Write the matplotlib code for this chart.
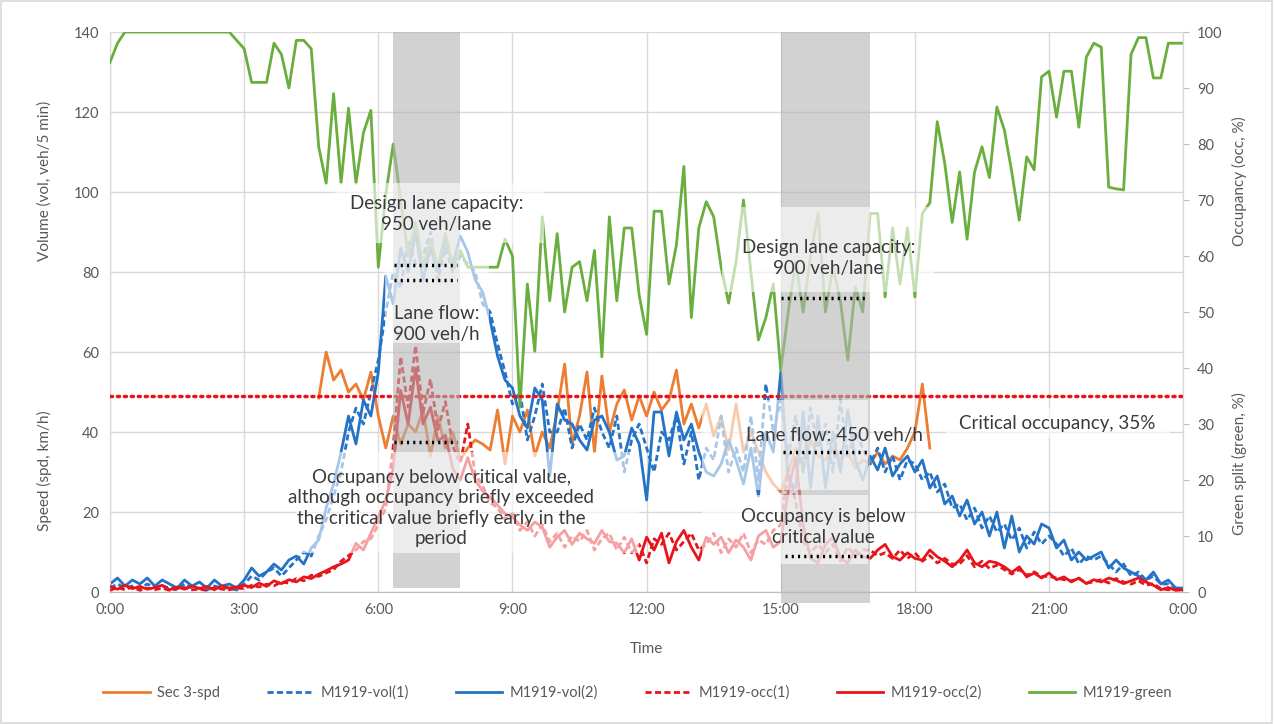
import numpy as np
import matplotlib
matplotlib.use("Agg")
import matplotlib.pyplot as plt
from matplotlib.patches import Rectangle

plt.rcParams['font.family'] = ['Lato', 'DejaVu Sans']

# ---- data: 10-minute samples from 0:00 to 24:00 ----
STEP_MIN = 10

# M1919-vol(2), veh/5 min
vol2 = [2, 3.5, 1.5, 3, 2, 3.5,
        1.5, 3, 2, 1, 3, 1.5,
        2.5, 1, 3, 1.5, 2, 1,
        3, 6, 4, 5, 7, 5.5,
        8, 9, 7, 11, 13, 21,
        27, 35, 44, 37, 48, 44,
        55, 79, 72, 86, 80, 90,
        78, 86, 80, 88, 82, 89,
        85, 78, 75, 68, 59, 53,
        51, 44, 41, 51, 48, 29,
        47, 43, 42, 38, 35.5, 43,
        44, 40, 33, 34, 41, 37,
        23, 45, 45, 34, 45, 38,
        42, 35, 30, 29, 32, 38,
        33, 27, 36, 24, 40, 35,
        55, 28, 26, 45, 26, 44,
        26, 40, 30, 45.5, 33, 28,
        34, 30.5, 36, 29, 32, 34,
        30, 33, 26, 29, 22, 24,
        19, 23, 17, 20, 14, 20,
        11, 19, 10, 14, 12, 17,
        16, 11, 13, 8, 10, 8,
        9, 10, 6, 8, 6, 5,
        4, 3, 5, 2, 3, 1,
        1]

# M1919-vol(1), veh/5 min
vol1 = [1, 2, 1, 1.5, 1, 2,
        1, 1.5, 1, 0.5, 2, 1,
        1, 0.5, 1.5, 1, 1, 0.5,
        2, 4, 3, 5, 6, 4,
        6, 8, 10, 9, 14, 18,
        24, 30, 40, 46, 42, 50,
        58, 70, 80, 76, 88, 82,
        84, 90, 78, 86, 80, 84,
        82, 80, 72, 70, 62, 55,
        47, 50, 38, 44, 52, 40,
        40, 46, 36, 42, 38, 46,
        40, 36, 44, 30, 38, 42,
        36, 30, 40, 38, 44, 32,
        40, 28, 36, 33, 44, 30,
        36, 30, 44, 28, 52, 40,
        48, 34, 44, 30, 46, 36,
        42, 30, 48, 34, 40, 36,
        32, 36, 30, 34, 28, 33,
        32, 28, 30, 25, 27, 21,
        22, 18, 21, 16, 19, 15,
        17, 13, 16, 11, 15, 12,
        14, 12, 9, 11, 7, 9,
        8, 9, 7, 5, 7, 4,
        5, 3, 4, 2, 2, 1,
        0.5]

# M1919-occ(2), %
occ2 = [1, 0.5, 1.2, 0.6, 1.0, 0.5,
        0.8, 1.2, 0.4, 0.9, 0.5, 1.1,
        0.6, 1.0, 0.4, 1.1, 0.7, 0.9,
        1.2, 0.8, 1.6, 1.0, 2.0, 1.5,
        2.2, 1.8, 2.7, 2.4, 3.2, 3.8,
        4.5, 5.0, 5.7, 8.7, 7.5, 10.5,
        13.4, 16.4, 22, 36, 30, 40,
        30, 33, 27, 28, 22, 20,
        24, 20, 18, 17, 15.5, 14,
        13.4, 12, 11, 12.5, 11.6, 8,
        9.8, 11, 8.5, 10.5, 9.5, 8.7,
        11, 9, 8.7, 7, 9.5, 5.7,
        9.8, 7.5, 10.5, 5.2, 9, 11,
        8, 5.7, 9.8, 8.5, 9.8, 7,
        9.3, 8, 5.7, 10, 11, 8,
        9, 18, 24, 12, 6, 5.2,
        8.5, 9.8, 6, 5.2, 7.5, 6.3,
        6, 7.5, 8.5, 6.3, 5.7, 7,
        6, 5.7, 7.5, 6.3, 5.5, 4.5,
        5.7, 7.5, 5.2, 4.5, 5.5, 5.2,
        4.5, 3.5, 4.5, 2.7, 3.4, 2.5,
        3.4, 2.2, 2.7, 1.8, 2.5, 1.5,
        2.2, 1.8, 2.5, 2.1, 1.5, 2.0,
        2.5, 1.8, 1.2, 0.4, 0.8, 0.3,
        0.4]

# M1919-occ(1), %
occ1 = [0.3, 0.8, 0.4, 0.9, 0.3, 0.7,
        0.4, 0.7, 0.3, 0.6, 0.8, 0.4,
        0.5, 0.3, 0.8, 0.5, 0.4, 0.7,
        0.6, 1.2, 0.9, 1.4, 1.1, 1.8,
        1.6, 2.4, 2.0, 3.0, 2.8, 3.4,
        4.0, 5.5, 6.5, 7.5, 9, 9.5,
        12, 15, 26, 42, 33, 44,
        32, 38, 29, 34, 26, 23,
        30, 21, 19, 16, 15, 13,
        14, 11, 12.5, 10, 12, 9,
        10.5, 8, 10, 9, 11, 7.5,
        9.5, 10.5, 7.5, 9.8, 7, 8.5,
        5.2, 9.5, 8.5, 10.5, 7.5, 9,
        10.5, 7.5, 8.5, 10.5, 7, 9.5,
        8, 10.5, 7, 9.3, 8.5, 11,
        12, 22, 16, 9, 7, 8.5,
        7, 8.5, 5.5, 8, 6.5, 7.5,
        7.5, 6.5, 7, 6, 7.5, 6,
        7, 5.5, 6.5, 5.2, 6, 5,
        5, 6.5, 4.5, 5.5, 4.2, 4.8,
        4, 3.2, 4, 3, 3.6, 2.8,
        2.8, 2.5, 2.2, 2.0, 2.4, 1.6,
        1.8, 2.2, 1.6, 2.4, 1.8, 1.4,
        2.0, 1.2, 1.5, 0.6, 0.4, 0.5,
        0.3]

# M1919-green, % green split
green = [94.6, 98, 100, 100, 100, 100,
         100, 100, 100, 100, 100, 100,
         100, 100, 100, 100, 100, 98.5,
         97, 91, 91, 91, 98, 96,
         90, 98.5, 98.5, 97, 79.5, 73,
         89, 73, 86.4, 73, 82, 86,
         58, 71, 80, 70, 60, 66,
         58, 63, 58, 64, 58, 61,
         58, 58, 58, 58, 58, 63,
         60, 33, 55, 43, 67, 52,
         64, 50, 58, 59, 52, 61,
         42, 67, 52, 65, 65, 53,
         46, 68, 68, 55, 62, 76,
         49, 65, 69.7, 67, 58, 51.6,
         59, 70, 57, 45, 49, 55,
         39.6, 50, 59, 50, 60, 67.6,
         50, 58, 52, 41.4, 54.5, 50,
         67.6, 67.6, 52.7, 65, 55, 65,
         52.7, 67.6, 69.5, 84, 76.6, 66,
         75, 63, 75, 79.5, 74, 86.6,
         82.5, 75, 66.4, 77.7, 75.4, 92,
         93, 84.8, 93, 93, 83, 95.5,
         98, 97.3, 72.3, 72, 71.8, 96,
         99, 99, 91.8, 91.8, 98, 98,
         98]

# Sec 3-spd, km/h (detector reports from 4:40 to 18:20)
spd_start_min = 4 * 60 + 40
spd = [48.5, 60,
       53, 55.5, 50, 52, 48, 55,
       44, 36, 44, 37, 42, 40,
       45.5, 34, 44, 36, 40, 33,
       36, 38, 37, 35.5, 45.5, 32,
       44, 40, 45.5, 34, 40, 36,
       45, 57, 37, 44, 55, 35,
       54, 40, 47, 50.5, 43, 49,
       44, 50, 45.5, 48, 55.5, 42,
       47, 41, 47, 39, 44, 35.5,
       47, 35, 40, 35, 30, 27,
       25, 30, 36, 31, 38, 34,
       33, 36, 33, 35, 31, 33,
       32, 35, 32, 34, 33, 36,
       40, 52, 36]

critical_occ = 35  # %

# peak periods (hours)
peaks = [(6 + 20 / 60, 7 + 50 / 60), (15.0, 17.0)]

# annotation reference lines (veh/5 min scale): (start h, end h, level)
ref_lines = [(6.36, 7.77, 81.7), (6.36, 7.77, 78.0), (6.36, 7.77, 37.5),
             (15.0, 16.96, 73.5), (15.05, 16.98, 35.0), (15.1, 17.0, 9.0)]

# note text and its translucent panel (h0, h1, y0, y1) in veh/5 min scale
notes = [(7.3, 94.5, "Design lane capacity:\n950 veh/lane", (5.02, 9.71, 87.3, 102.3)),
         (7.3, 67.0, "Lane flow:\n900 veh/h", (6.14, 8.48, 62.3, 87.3)),
         (7.41, 21.0, "Occupancy below critical value,\nalthough occupancy briefly exceeded\n"
                      "the critical value briefly early in the\nperiod", (4.17, 11.83, 9.8, 35.0)),
         (16.07, 83.5, "Design lane capacity:\n900 veh/lane", (13.68, 18.42, 75.0, 96.3)),
         (16.2, 39.2, "Lane flow: 450 veh/h", (13.24, 16.96, 25.5, 48.0)),
         (15.96, 16.3, "Occupancy is below\ncritical value", (13.24, 16.96, 7.0, 24.3)),
         (21.18, 42.25, "Critical occupancy, 35%", (18.7, 23.7, 38.5, 46.0))]

hour_ticks = list(range(0, 25, 3))
hour_labels = ["0:00", "3:00", "6:00", "9:00", "12:00", "15:00", "18:00", "21:00", "0:00"]

# ---- build time axes ----
t = np.arange(len(vol2)) * STEP_MIN / 60.0
spd_series = np.full(len(vol2), np.nan)
i0 = spd_start_min // STEP_MIN
spd_series[i0:i0 + len(spd)] = spd

C_ORANGE = "#ED7D31"
C_BLUE = "#2473C6"
C_RED = "#E8141B"
C_GREEN = "#6AAE3E"
GRID = "#d9d9d9"
TXT = "#595959"

fig = plt.figure(figsize=(12.75, 7.24), dpi=100)
ax = fig.add_axes([0.0863, 0.1823, 0.8417, 0.7735])
ax2 = ax.twinx()

ax.set_xlim(0, 24)
ax.set_ylim(0, 140)
ax2.set_ylim(0, 100)

ax.set_xticks(hour_ticks)
ax.set_xticklabels(hour_labels)
ax.set_yticks(range(0, 141, 20))
ax2.set_yticks(range(0, 101, 10))
ax.grid(True, color=GRID, lw=1.0)
ax.set_axisbelow(True)

for a in (ax, ax2):
    a.spines['top'].set_visible(False)
    for s in ('left', 'right'):
        a.spines[s].set_color(GRID)
    a.spines['bottom'].set_color("#bfbfbf")
    a.tick_params(labelsize=10.5, colors=TXT, length=0, pad=8)
ax2.tick_params(axis='y', length=4, color="#bfbfbf", direction='out', pad=6)

lw = 2.0
h_spd, = ax.plot(t, spd_series, color=C_ORANGE, lw=lw, zorder=3)
h_v1, = ax.plot(t, vol1, color=C_BLUE, lw=lw, ls=(0, (2.2, 1.2)), zorder=3)
h_v2, = ax.plot(t, vol2, color=C_BLUE, lw=lw, zorder=3)
h_o1, = ax2.plot(t, occ1, color=C_RED, lw=lw, ls=(0, (2.2, 1.2)), zorder=3)
h_o2, = ax2.plot(t, occ2, color=C_RED, lw=lw, zorder=3)
h_g, = ax2.plot(t, green, color=C_GREEN, lw=lw, zorder=3)

# critical occupancy level
ax2.plot([0, 24], [critical_occ, critical_occ], color=C_RED, lw=2.5,
         ls=(0, (0.6, 1.4)), dash_capstyle='round', zorder=4)

# shaded peak periods (drawn over the series)
ax2.add_patch(Rectangle((peaks[0][0], 0.9), peaks[0][1] - peaks[0][0], 139.1,
                        transform=ax.transData, facecolor="#b4b4b4", alpha=0.6,
                        edgecolor='none', zorder=5, clip_on=False))
ax2.add_patch(Rectangle((peaks[1][0], -2.7), peaks[1][1] - peaks[1][0], 142.7,
                        transform=ax.transData, facecolor="#b4b4b4", alpha=0.6,
                        edgecolor='none', zorder=5, clip_on=False))

for x, y, s, (bx0, bx1, by0, by1) in notes:
    ax2.add_patch(Rectangle((bx0, by0), bx1 - bx0, by1 - by0, transform=ax.transData,
                            facecolor='white', alpha=0.6, edgecolor='none', zorder=6))
    ax2.text(x, y, s, transform=ax.transData, ha='center', va='center',
             fontsize=13.5, color="#3a3a3a", linespacing=1.25, zorder=7)

for x0, x1, y in ref_lines:
    ax2.plot([x0, x1], [y, y], transform=ax.transData, color="black", lw=2.5,
             ls=(0, (0.6, 1.2)), zorder=8)

ax.set_xlabel("Time", fontsize=11, color=TXT, labelpad=18)

fig.text(0.035, 0.75, "Volume (vol, veh/5 min)", rotation=90, ha='center', va='center',
         fontsize=11, color=TXT)
fig.text(0.035, 0.35, "Speed (spd, km/h)", rotation=90, ha='center', va='center',
         fontsize=11, color=TXT)
fig.text(0.972, 0.75, "Occupancy (occ, %)", rotation=90, ha='center', va='center',
         fontsize=11, color=TXT)
fig.text(0.972, 0.36, "Green split (green, %)", rotation=90, ha='center', va='center',
         fontsize=11, color=TXT)

handles = [h_spd, h_v1, h_v2, h_o1, h_o2, h_g]
labels = ["Sec 3-spd", "M1919-vol(1)", "M1919-vol(2)", "M1919-occ(1)", "M1919-occ(2)", "M1919-green"]
fig.legend(handles, labels, loc='center', bbox_to_anchor=(0.5, 0.043), ncol=6,
           frameon=False, fontsize=10.5, labelcolor=TXT, handlelength=3.2,
           columnspacing=3.2, handletextpad=0.5)

fig.patches.append(Rectangle((0.001, 0.002), 0.997, 0.996, transform=fig.transFigure,
                             fill=False, edgecolor="#d9d9d9", lw=1.2))

fig.savefig("out.png", dpi=100)
